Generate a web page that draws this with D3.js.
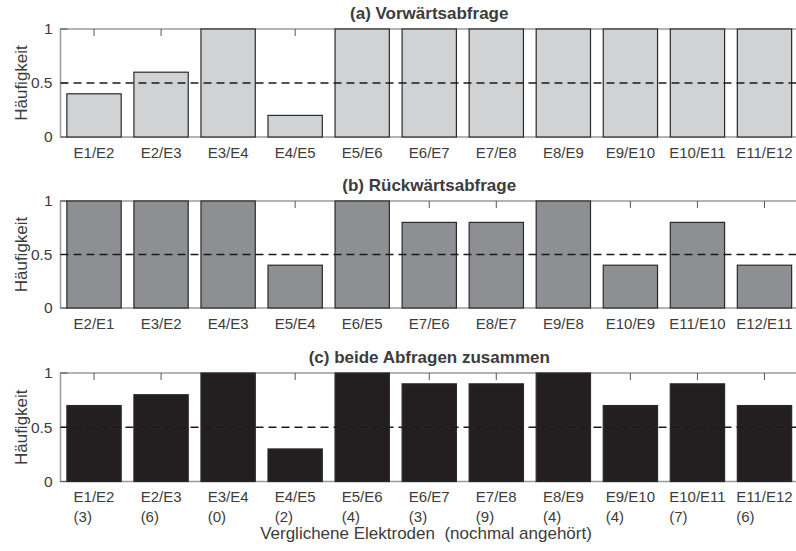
<!DOCTYPE html>
<html>
<head>
<meta charset="utf-8">
<script src="https://cdn.jsdelivr.net/npm/d3@7/dist/d3.min.js"></script>
<style>
  html, body { margin: 0; padding: 0; background: #fff; }
  svg { display: block; font-family: "Liberation Sans", Arial, sans-serif; }
  text { fill: #3c3c3c; }
</style>
</head>
<body>
<svg id="chart" width="796" height="551"></svg>
<script>
// Electrode pairs and relative frequencies for each query direction
const pairsForward  = ["E1/E2","E2/E3","E3/E4","E4/E5","E5/E6","E6/E7","E7/E8","E8/E9","E9/E10","E10/E11","E11/E12"];
const valuesForward = [0.4, 0.6, 1, 0.2, 1, 1, 1, 1, 1, 1, 1];

const pairsBackward  = ["E2/E1","E3/E2","E4/E3","E5/E4","E6/E5","E7/E6","E8/E7","E9/E8","E10/E9","E11/E10","E12/E11"];
const valuesBackward = [1, 1, 1, 0.4, 1, 0.8, 0.8, 1, 0.4, 0.8, 0.4];

const pairsCombined   = ["E1/E2","E2/E3","E3/E4","E4/E5","E5/E6","E6/E7","E7/E8","E8/E9","E9/E10","E10/E11","E11/E12"];
const valuesCombined  = [0.7, 0.8, 1, 0.3, 1, 0.9, 0.9, 1, 0.7, 0.9, 0.7];
const repeatsCombined = [3, 6, 0, 2, 4, 3, 9, 4, 4, 7, 6];

const yTicks = [0, 0.5, 1];
const yTickLabels = ["0", "0.5", "1"];
const titles = ["(a) Vorwärtsabfrage", "(b) Rückwärtsabfrage", "(c) beide Abfragen zusammen"];
const yLabel = "Häufigkeit";
const xLabel = "Verglichene Elektroden  (nochmal angehört)";

const svg = d3.select("#chart");

const panels = [
  { title: titles[0], pairs: pairsForward,  values: valuesForward,  fill: "#d1d2d4", top: 29,  bottom: 137 },
  { title: titles[1], pairs: pairsBackward, values: valuesBackward, fill: "#8e8f92", top: 201, bottom: 308 },
  { title: titles[2], pairs: pairsCombined, values: valuesCombined, fill: "#231f20", top: 373, bottom: 481.5, counts: repeatsCombined }
];

const left = 60.5, right = 798;
const barFrac = 0.81;

panels.forEach(p => {
  const g = svg.append("g");
  const x = d3.scaleBand().domain(p.pairs).range([left, right]).padding(0);
  const y = d3.scaleLinear().domain([0, 1]).range([p.bottom, p.top]);
  const bw = x.bandwidth() * barFrac;
  const cx = d => x(d) + x.bandwidth() / 2;

  // axes box
  g.append("rect")
    .attr("x", left).attr("y", p.top)
    .attr("width", right - left).attr("height", p.bottom - p.top)
    .attr("fill", "none").attr("stroke", "#9a9a9a").attr("stroke-width", 1.5);

  // inward x ticks on top and bottom edges
  g.selectAll(".tt").data(p.pairs).enter().append("line")
    .attr("x1", cx).attr("x2", cx)
    .attr("y1", p.top).attr("y2", p.top + 7)
    .attr("stroke", "#555").attr("stroke-width", 1);
  g.selectAll(".tb").data(p.pairs).enter().append("line")
    .attr("x1", cx).attr("x2", cx)
    .attr("y1", p.bottom).attr("y2", p.bottom - 7)
    .attr("stroke", "#555").attr("stroke-width", 1);

  // inward y ticks
  g.selectAll(".yt").data(yTicks).enter().append("line")
    .attr("x1", left).attr("x2", left + 7)
    .attr("y1", d => y(d)).attr("y2", d => y(d))
    .attr("stroke", "#555").attr("stroke-width", 1);

  // bars
  g.selectAll(".bar").data(p.pairs).enter().append("rect")
    .attr("x", d => cx(d) - bw / 2)
    .attr("y", (d, i) => y(p.values[i]))
    .attr("width", bw)
    .attr("height", (d, i) => y(0) - y(p.values[i]))
    .attr("fill", p.fill)
    .attr("stroke", "#2a2a2a").attr("stroke-width", 1.2);

  // reference line at 0.5
  g.append("line")
    .attr("x1", left).attr("x2", right)
    .attr("y1", y(0.5)).attr("y2", y(0.5))
    .attr("stroke", "#1a1a1a").attr("stroke-width", 1.4)
    .attr("stroke-dasharray", "8,5");

  // y tick labels
  g.selectAll(".yl").data(yTicks).enter().append("text")
    .attr("x", left - 8).attr("y", d => y(d))
    .attr("dy", "0.35em")
    .attr("text-anchor", "end")
    .style("font-size", "15.5px")
    .text((d, i) => yTickLabels[i]);

  // y axis label
  g.append("text")
    .attr("transform", `translate(27,${(p.top + p.bottom) / 2}) rotate(-90)`)
    .attr("text-anchor", "middle")
    .style("font-size", "17px")
    .text(yLabel);

  // title
  g.append("text")
    .attr("x", (left + right) / 2).attr("y", p.top - 10)
    .attr("text-anchor", "middle")
    .style("font-size", "17px").style("font-weight", "bold")
    .text(p.title);

  // x tick labels
  const labels = g.selectAll(".xl").data(p.pairs).enter().append("text")
    .attr("x", cx).attr("y", p.bottom + 20.5)
    .attr("text-anchor", "middle")
    .style("font-size", "15px")
    .text(d => d);

  // second line with repeat counts, left-aligned under the pair name
  if (p.counts) {
    labels.each(function(d, i) {
      const w = this.getComputedTextLength();
      g.append("text")
        .attr("x", cx(d) - w / 2).attr("y", p.bottom + 40.5)
        .attr("text-anchor", "start")
        .style("font-size", "15px")
        .text("(" + p.counts[i] + ")");
    });
  }
});

// shared x axis label
svg.append("text")
  .attr("x", 426).attr("y", 539)
  .attr("text-anchor", "middle")
  .style("font-size", "17px")
  .style("white-space", "pre")
  .text(xLabel);
</script>
</body>
</html>
